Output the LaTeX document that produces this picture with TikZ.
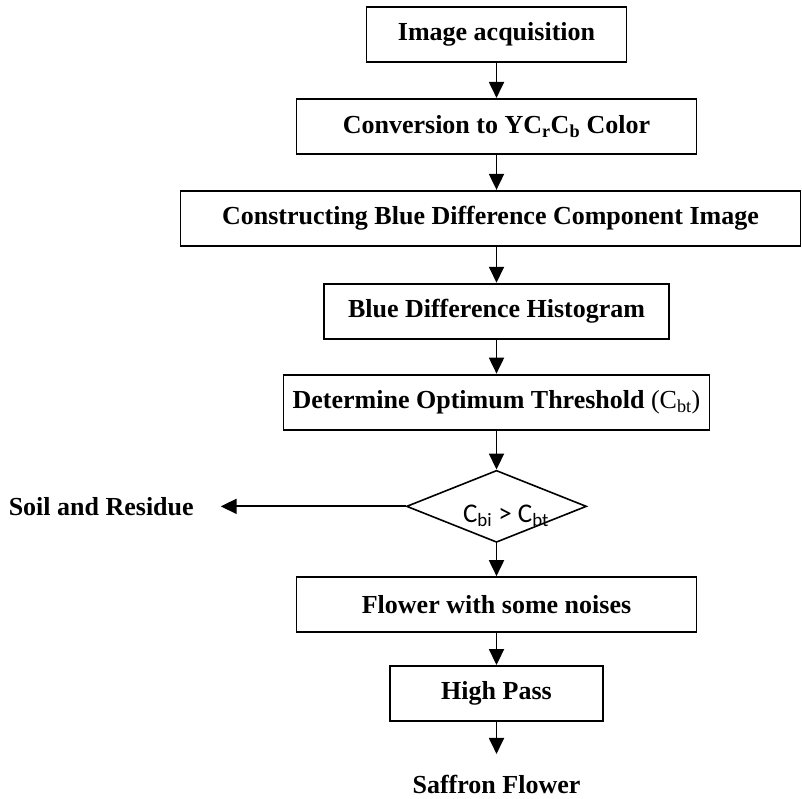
\documentclass[tikz,border=0pt]{standalone}
\usepackage{fontspec}
\setmainfont{Liberation Serif}
\newfontfamily\calfont{Carlito}
\usepackage{tikz}
\usetikzlibrary{
  shapes.geometric, arrows.meta, positioning
}
\newcommand\boxfont{\fontsize{26}{31}\selectfont\bfseries}
\tikzset{
  % Process boxes
  procbox/.style={
    rectangle, minimum width=#1, minimum height=55pt,
    draw=black, fill=white, text=black, font=\boxfont,
    align=center, line width=1.9pt, inner sep=4pt,
  },
  procbox/.default={400pt},
  % Decision
  decision/.style={
    diamond, aspect=2.5, minimum width=180pt, minimum height=72pt,
    draw=black, line width=1.6pt, inner sep=0pt,
  },
  condtext/.style={font=\calfont\fontsize{27}{32}\selectfont, inner sep=0pt},
  % Arrows
  myarrow/.style={-{Triangle[length=16pt,width=15pt]}, line width=1.9pt},
  % Free labels at the ends
  endlabel/.style={font=\boxfont, inner sep=0pt, outer sep=#1},
  endlabel/.default={0pt},
}
\begin{document}
\begin{tikzpicture}

  \useasboundingbox (0,0) rectangle (802pt,-798pt);

  % Processing chain
  \node[procbox=260pt] (acq) at (496.5pt,-34.5pt) {Image acquisition};
  \node[procbox, below=35pt of acq] (conv)
    {Conversion to YC\textsubscript{r}C\textsubscript{b} Color};
  \node[procbox=620pt, below=35pt of conv, xshift=-6pt] (cbimg)
    {Constructing Blue Difference Component Image};
  \node[procbox=345pt, below=36pt of cbimg, xshift=6pt] (hist)
    {Blue Difference Histogram};
  \node[procbox=426pt, below=34pt of hist] (thr)
    {Determine Optimum Threshold {\mdseries (C\textsubscript{bt})}};

  % Decision
  \node[decision, below=39pt of thr] (dec) {};
  \node[condtext, anchor=base] (condlbl) at ([xshift=9.5pt,yshift=-16pt]dec.center)
    {C\textsubscript{bi} > C\textsubscript{bt}};
  \node[endlabel=27pt, left=185pt of dec.west] (soil) {Soil and Residue};

  % Flower branch
  \node[procbox, below=33pt of dec] (noisy) {Flower with some noises};
  \node[procbox=213pt, below=32pt of noisy] (hp) {High Pass};
  \node[endlabel=21pt, below=32pt of hp] (saffron) {Saffron Flower};

  % Arrows
  \draw[myarrow] (acq) -- (conv);
  \draw[myarrow] (conv.south) -- (conv.south |- cbimg.north);
  \draw[myarrow] (hist.north |- cbimg.south) -- (hist);
  \draw[myarrow] (hist) -- (thr);
  \draw[myarrow] (thr) -- (dec);
  \draw[myarrow] (dec.west) -- (soil);
  \draw[myarrow] (dec) -- (noisy);
  \draw[myarrow] (noisy) -- (hp);
  \draw[myarrow] (hp) -- (saffron);

\end{tikzpicture}
\end{document}
